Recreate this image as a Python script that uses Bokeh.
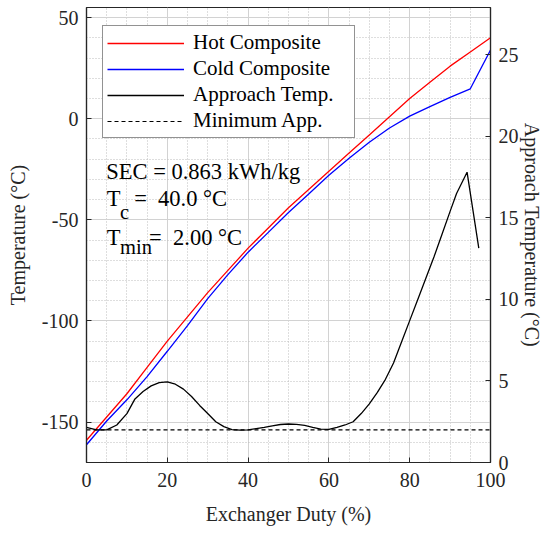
from bokeh.plotting import figure
from bokeh.models import Range1d, LinearAxis, FixedTicker, Legend, LegendItem, Label
from bokeh.embed import file_html
from bokeh.resources import INLINE

# composite curves (duty in %, temperature in degC)
duty = [0, 5, 10, 15, 20, 25, 30, 35, 40, 45, 50, 55, 60, 65, 70, 75, 80, 85, 90, 95, 100]
hot = [-159, -147.5, -136, -123, -110, -98, -86, -75, -64, -54, -44, -35, -26, -17, -8, 1, 10, 18, 26, 33, 40]
cold = [-161.2, -149.5, -139, -127.5, -115, -102.3, -89, -77.1, -66, -56.2, -46.4, -37.2, -28, -19.5,
        -11.6, -4.6, 1.3, 6, 10.6, 14.8, 34]

# approach temperature (right axis)
app_duty = [0, 2.5, 5, 7.5, 10, 12, 14, 16, 18, 20, 22, 24, 26, 28, 30, 32, 34, 36, 38, 40, 42, 44,
            46, 48, 50, 52, 54, 56, 58, 60, 62, 64, 66, 68, 70, 72, 74, 76, 78, 80, 82, 84, 86, 88,
            90, 91.6, 94.2, 97.1]
approach = [2.15, 2.0, 2.0, 2.3, 3.0, 3.9, 4.35, 4.7, 4.9, 4.95, 4.8, 4.5, 4.05, 3.5, 3.0, 2.5, 2.2,
            2.02, 1.98, 2.0, 2.08, 2.16, 2.25, 2.33, 2.36, 2.34, 2.27, 2.15, 2.05, 2.03, 2.15, 2.3,
            2.5, 3.0, 3.6, 4.3, 5.1, 6.1, 7.4, 8.7, 10.0, 11.3, 12.6, 14.0, 15.4, 16.5, 17.8, 13.15]

min_duty = [0, 100]
min_app = [2.0, 2.0]

x_ticks = [0, 20, 40, 60, 80, 100]
y_ticks = [-150, -100, -50, 0, 50]
app_ticks = [0, 5, 10, 15, 20, 25]

FONT = "Liberation Serif"
AX = "#262626"

W, H = 545, 528
p = figure(width=W, height=H, x_range=Range1d(0, 100), y_range=Range1d(-170, 55),
           output_backend="svg", toolbar_location=None,
           min_border_left=86, min_border_right=W - 493, min_border_top=7, min_border_bottom=H - 462)
p.extra_y_ranges = {"app": Range1d(0, 27.9)}
p.outline_line_color = AX
p.outline_line_width = 1.2
p.background_fill_color = "white"

bottom_axis = p.below[0]
left_axis = p.left[0]
bottom_axis.ticker = FixedTicker(ticks=x_ticks, minor_ticks=list(range(0, 101, 5)))
left_axis.ticker = FixedTicker(ticks=y_ticks, minor_ticks=list(range(-170, 56, 10)))
left_axis.major_label_overrides = {t: str(t) for t in y_ticks}
bottom_axis.axis_label = "Exchanger Duty (%)"
left_axis.axis_label = "Temperature (°C)"

# grid on + grid minor
p.xgrid.ticker = bottom_axis.ticker
p.ygrid.ticker = left_axis.ticker
for g in [p.xgrid[0], p.ygrid[0]]:
    g.grid_line_color = "#d2d2d2"
    g.minor_grid_line_color = "#bdbdbd"
    g.minor_grid_line_dash = "1 2"

right_axis = LinearAxis(y_range_name="app", ticker=FixedTicker(ticks=app_ticks),
                        axis_label="Approach Temperature (°C)")
p.add_layout(right_axis, "right")

for ax in [bottom_axis, left_axis, right_axis]:
    ax.axis_line_color = AX
    ax.axis_line_width = 1.2
    ax.major_tick_line_color = AX
    ax.major_tick_in = 5
    ax.major_tick_out = 0
    ax.minor_tick_in = 0
    ax.minor_tick_out = 0
    ax.major_label_text_font = FONT
    ax.major_label_text_font_size = "20px"
    ax.major_label_text_color = AX
    ax.major_label_standoff = 8
    ax.axis_label_text_font = FONT
    ax.axis_label_text_font_style = "normal"
    ax.axis_label_text_font_size = "20px"
    ax.axis_label_text_color = AX
bottom_axis.major_label_standoff = 10
bottom_axis.axis_label_standoff = 13
left_axis.axis_label_standoff = 10
right_axis.axis_label_standoff = -1

r_hot = p.line(duty, hot, line_color="red", line_width=1.3)
r_cold = p.line(duty, cold, line_color="blue", line_width=1.3)
r_app = p.line(app_duty, approach, line_color="black", line_width=1.3, y_range_name="app")
r_min = p.line(min_duty, min_app, line_color="black", line_width=1.2, line_dash="4 3",
               y_range_name="app")

legend = Legend(items=[
    LegendItem(label="Hot Composite", renderers=[r_hot]),
    LegendItem(label="Cold Composite", renderers=[r_cold]),
    LegendItem(label="Approach Temp.", renderers=[r_app]),
    LegendItem(label="Minimum App.", renderers=[r_min]),
], location=(16, 324))
legend.label_text_font = FONT
legend.label_text_font_size = "21px"
legend.label_text_color = "black"
legend.glyph_width = 77
legend.glyph_height = 24
legend.label_height = 24
legend.label_width = 157
legend.label_standoff = 9
legend.spacing = 1
legend.padding = 4
legend.margin = 0
legend.border_line_color = AX
legend.border_line_width = 1.2
legend.background_fill_alpha = 1
p.add_layout(legend)

# annotation text
def txt(x, y, s, size="22.5px"):
    p.add_layout(Label(x=x, y=y, text=s, text_font=FONT, text_font_size=size,
                       text_color="black", text_baseline="alphabetic"))

txt(4.9, -26.1, "SEC = 0.863 kWh/kg")
txt(5, -39.6, "T")
txt(8.3, -45.9, "c", "20.5px")
txt(11.8, -39.6, "=\u00a0\u00a040.0 °C")
txt(5, -58.6, "T")
txt(8.3, -63.2, "min", "20.5px")
txt(15.5, -58.6, "=\u00a0\u00a02.00 °C")

open("out.html", "w").write(file_html(p, INLINE))
